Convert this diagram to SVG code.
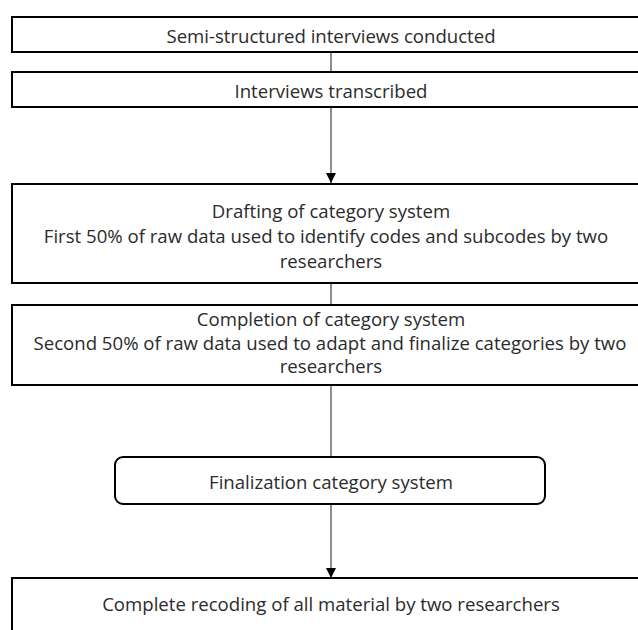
<svg xmlns="http://www.w3.org/2000/svg" width="638" height="630" viewBox="0 0 638 630">
<style>
.box{fill:#fff;stroke:#000;stroke-width:2}
.t{font-family:"Open Sans","Noto Sans",sans-serif;font-size:18.6px;fill:#2b2b2b;text-anchor:middle;dominant-baseline:central}
.c{stroke:#404040;stroke-width:1.2;fill:none}
</style>
<defs>
<marker id="ah" markerWidth="10" markerHeight="10" refX="10" refY="5" orient="auto" markerUnits="userSpaceOnUse" viewBox="0 0 10 10">
<path d="M0,0 L10,5 L0,10 Z" fill="#000"/>
</marker>
</defs>
<rect width="638" height="630" fill="#fff"/>
<g id="connectors">
<line class="c" x1="331" y1="52" x2="331" y2="71"/>
<line class="c" x1="331" y1="107" x2="331" y2="183" marker-end="url(#ah)"/>
<line class="c" x1="331" y1="284" x2="331" y2="305"/>
<line class="c" x1="331" y1="385" x2="331" y2="457"/>
<line class="c" x1="331" y1="504" x2="331" y2="578" marker-end="url(#ah)"/>
</g>
<g id="n1">
<rect class="box" x="12" y="17" width="650" height="35"/>
<text class="t" x="331" y="35">Semi-structured interviews conducted</text>
</g>
<g id="n2">
<rect class="box" x="12" y="72" width="650" height="35"/>
<text class="t" x="331" y="90">Interviews transcribed</text>
</g>
<g id="n3">
<rect class="box" x="12" y="184" width="650" height="99"/>
<text class="t" x="331" y="210">Drafting of category system</text>
<text class="t" x="326" y="235">First 50% of raw data used to identify codes and subcodes by two</text>
<text class="t" x="331" y="260">researchers</text>
</g>
<g id="n4">
<rect class="box" x="12" y="305" width="650" height="80"/>
<text class="t" x="331" y="318">Completion of category system</text>
<text class="t" x="330" y="342">Second 50% of raw data used to adapt and finalize categories by two</text>
<text class="t" x="331" y="365">researchers</text>
</g>
<g id="n5">
<rect class="box" x="115" y="457" width="430" height="47" rx="8" ry="8"/>
<text class="t" x="331" y="481">Finalization  category system</text>
</g>
<g id="n6">
<rect class="box" x="12" y="578" width="650" height="70"/>
<text class="t" x="331" y="603">Complete recoding of all material by two researchers</text>
</g>
</svg>
